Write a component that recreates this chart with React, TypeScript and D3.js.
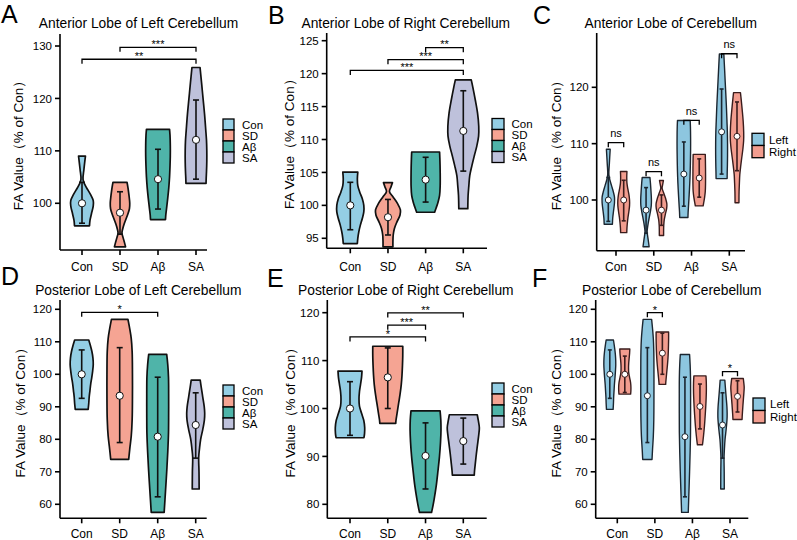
import React from 'react';
import * as d3 from 'd3';

type Prof = [number, number][];

const groups = ['Con', 'SD', 'Aβ', 'SA'];
const groupColors = ['#94CEE4', '#F5A493', '#4FB4A9', '#BEC1DB'];
const sides = ['Left', 'Right'];
const sideColors = ['#8DC6DF', '#F29D8F'];
const sideStrokes = ['#1b2630', '#3a1c1c'];

// ---------- Anterior lobe, left (panel A) ----------
const antLeftMean = [100, 98.2, 104.6, 112.1];
const antLeftLow = [96.2, 94.1, 98.9, 104.6];
const antLeftHigh = [104.0, 102.2, 110.3, 119.7];
const antLeftDensity: Prof[] = [
  [[109, .23], [106.5, .13], [104.5, .07], [103.5, .2], [102.5, .4], [101.5, .6], [100.5, .75], [99.5, .75], [98, .63], [96.7, .53], [95.7, .5]],
  [[104, .47], [103, .53], [101.5, .6], [100, .65], [99, .63], [98, .53], [97, .4], [96, .27], [95, .17], [94.3, .13], [93.5, .2], [92.5, .3], [91.7, .37]],
  [[114.1, .77], [113, .8], [111, .82], [109, .82], [107, .8], [105, .77], [103, .72], [101, .65], [99, .57], [97.8, .52], [96.9, .5]],
  [[125.9, .27], [123, .37], [120, .47], [117, .57], [114, .65], [112, .7], [110, .72], [108, .72], [106, .7], [104.8, .68], [103.8, .67]],
];

// ---------- Anterior lobe, right (panel B) ----------
const antRightMean = [100, 98.2, 103.9, 111.3];
const antRightLow = [96.3, 95.5, 100.5, 105.2];
const antRightHigh = [103.5, 100.9, 107.3, 117.4];
const antRightDensity: Prof[] = [
  [[105.05, .5], [104, .47], [103, .5], [102, .63], [101, .8], [100, .9], [99, .9], [98, .8], [97, .67], [96, .57], [95, .5], [94.2, .47]],
  [[103.45, .3], [102.8, .2], [102.1, .1], [101.3, .33], [100.3, .63], [99.3, .83], [98.5, .8], [97.5, .6], [96.5, .43], [95.5, .35], [94.5, .33], [93.7, .33]],
  [[108.1, .93], [107, .95], [105, .97], [103, .97], [101.5, .93], [100.5, .83], [99.6, .7], [98.95, .6]],
  [[119.05, .53], [118, .63], [116, .8], [114, .95], [112, 1.03], [110.5, 1.02], [109, .9], [107.5, .73], [106, .57], [104.5, .43], [103, .37], [101.5, .32], [99.5, .3]],
];

// ---------- Posterior lobe, left (panel D) ----------
const postLeftMean = [100, 93.4, 80.8, 84.4];
const postLeftLow = [92.6, 79.0, 62.3, 74.2];
const postLeftHigh = [107.5, 108.2, 99.1, 94.3];
const postLeftDensity: Prof[] = [
  [[110.55, .47], [109, .57], [107, .68], [105, .75], [103, .77], [101, .73], [99, .67], [97, .6], [95, .55], [93, .5], [91, .47], [89.2, .43]],
  [[116.9, .55], [114, .67], [111, .77], [107, .83], [100, .85], [93, .85], [86, .83], [81, .77], [77, .67], [73.8, .6]],
  [[106.1, .6], [103, .67], [99, .72], [94, .73], [88, .73], [82, .72], [76, .67], [70, .6], [64, .52], [57.5, .43]],
  [[98.2, .3], [96, .37], [93, .47], [90, .57], [88, .6], [86, .58], [83, .47], [80, .33], [77, .25], [74.5, .2], [70, .22], [64.7, .23]],
];

// ---------- Posterior lobe, right (panel E) ----------
const postRightMean = [100, 106.5, 90.1, 93.2];
const postRightLow = [94.4, 100.0, 83.2, 88.4];
const postRightHigh = [105.6, 112.65, 97.0, 98.0];
const postRightDensity: Prof[] = [
  [[107.8, .8], [106.5, .77], [105, .7], [103.5, .63], [102, .6], [100.5, .63], [99, .77], [97.5, .92], [96, .98], [94.8, .97], [93.9, .93]],
  [[113, 1], [111, 1], [109, .98], [107, .95], [105, .9], [103, .82], [101, .72], [99, .62], [97.6, .55], [96.9, .53]],
  [[99.5, .97], [97.5, 1.02], [95.5, 1.03], [93, 1], [90, .93], [87, .83], [84, .72], [81, .57], [79, .45], [78.3, .4]],
  [[98.7, .93], [97.5, 1], [96, 1.07], [94.5, 1.03], [92.5, .95], [90.5, .87], [88.5, .8], [87, .75], [86.1, .73]],
];

// ---------- axis ticks ----------
const ticksA = [100, 110, 120, 130];
const ticksB = [95, 100, 105, 110, 115, 120, 125];
const ticksC = [100, 110, 120];
const ticksD = [60, 70, 80, 90, 100, 110, 120];
const ticksE = [80, 90, 100, 110, 120];
const ticksF = [60, 70, 80, 90, 100, 110, 120];

// ---------- significance ----------
type GB = { from: number; to: number; level: number; label: string };
type SB = { cat: number; level: number; label: string };
const sigA: GB[] = [{ from: 1, to: 3, level: 129.75, label: '***' }, { from: 0, to: 3, level: 127.47, label: '**' }];
const sigB: GB[] = [{ from: 2, to: 3, level: 123.94, label: '**' }, { from: 1, to: 3, level: 122.12, label: '***' }, { from: 0, to: 3, level: 120.49, label: '***' }];
const sigC: SB[] = [{ cat: 0, level: 110.17, label: 'ns' }, { cat: 1, level: 105.02, label: 'ns' }, { cat: 2, level: 114.14, label: 'ns' }, { cat: 3, level: 125.96, label: 'ns' }];
const sigD: GB[] = [{ from: 0, to: 2, level: 119.08, label: '*' }];
const sigE: GB[] = [{ from: 1, to: 3, level: 119.96, label: '**' }, { from: 1, to: 2, level: 117.39, label: '***' }, { from: 0, to: 2, level: 114.95, label: '*' }];
const sigF: SB[] = [{ cat: 1, level: 118.95, label: '*' }, { cat: 3, level: 100.8, label: '*' }];

const yLabel = 'FA Value（% of Con）';

type Series = { mean: number[]; low: number[]; high: number[]; density: Prof[] };
const sAL: Series = { mean: antLeftMean, low: antLeftLow, high: antLeftHigh, density: antLeftDensity };
const sAR: Series = { mean: antRightMean, low: antRightLow, high: antRightHigh, density: antRightDensity };
const sPL: Series = { mean: postLeftMean, low: postLeftLow, high: postLeftHigh, density: postLeftDensity };
const sPR: Series = { mean: postRightMean, low: postRightLow, high: postRightHigh, density: postRightDensity };

interface Layout {
  letter: string; letterX: number; letterY: number;
  title: string; titleX: number; titleY: number;
  domain: [number, number]; yBottom: number; yTop: number;
  axisX: number; axisEnd: number; catRange: [number, number];
  ticks: number[]; labelX: number; xLabelY: number;
  legendX: number; legendY: number; legendW: number; legendH: number; legendTextX: number;
}

interface GroupPanel extends Layout { kind: 'groups'; series: Series; full: number; sig: GB[] }
interface SidePanel extends Layout { kind: 'sides'; left: Series; right: Series; fullL: number; fullR: number; sig: SB[]; off: number }

const panels: (GroupPanel | SidePanel)[] = [
  {
    kind: 'groups', letter: 'A', letterX: 1, letterY: 23, title: 'Anterior Lobe of Left Cerebellum', titleX: 138.5, titleY: 27.5,
    domain: [91.09, 132.29], yBottom: 250, yTop: 34, axisX: 60, axisEnd: 207, catRange: [82, 196], ticks: ticksA, labelX: 18, xLabelY: 271,
    legendX: 223, legendY: 119, legendW: 11, legendH: 11, legendTextX: 242, series: sAL, full: 30, sig: sigA,
  },
  {
    kind: 'groups', letter: 'B', letterX: 268, letterY: 23.5, title: 'Anterior Lobe of Right Cerebellum', titleX: 405.8, titleY: 27.5,
    domain: [93.48, 126.17], yBottom: 248.3, yTop: 33, axisX: 326.7, axisEnd: 487, catRange: [350.3, 463.3], ticks: ticksB, labelX: 289, xLabelY: 271,
    legendX: 492, legendY: 118.5, legendW: 12, legendH: 11, legendTextX: 511.5, series: sAR, full: 30, sig: sigB,
  },
  {
    kind: 'sides', letter: 'C', letterX: 533, letterY: 23.5, title: 'Anterior Lobe of Cerebellum', titleX: 670.8, titleY: 27.5,
    domain: [91.0, 129.64], yBottom: 250.7, yTop: 33, axisX: 596.7, axisEnd: 745, catRange: [616, 729.3], ticks: ticksC, labelX: 556, xLabelY: 271,
    legendX: 752, legendY: 133.3, legendW: 12, legendH: 12.2, legendTextX: 769, left: sAL, right: sAR, fullL: 16.5, fullR: 13, sig: sigC, off: 7.7,
  },
  {
    kind: 'groups', letter: 'D', letterX: 1, letterY: 285, title: 'Posterior Lobe of Left Cerebellum', titleX: 138.3, titleY: 294.5,
    domain: [55.69, 122.86], yBottom: 518.3, yTop: 300, axisX: 60, axisEnd: 206.7, catRange: [81.7, 195.7], ticks: ticksD, labelX: 20, xLabelY: 538,
    legendX: 223, legendY: 385, legendW: 11, legendH: 11, legendTextX: 242, series: sPL, full: 30, sig: sigD,
  },
  {
    kind: 'groups', letter: 'E', letterX: 267, letterY: 287, title: 'Posterior Lobe of Right Cerebellum', titleX: 405.8, titleY: 294.5,
    domain: [77.08, 122.65], yBottom: 518.3, yTop: 300, axisX: 327.3, axisEnd: 486.7, catRange: [350, 463.3], ticks: ticksE, labelX: 290, xLabelY: 538,
    legendX: 492, legendY: 383, legendW: 12, legendH: 11, legendTextX: 511.5, series: sPR, full: 30, sig: sigE,
  },
  {
    kind: 'sides', letter: 'F', letterX: 532, letterY: 287, title: 'Posterior Lobe of Cerebellum', titleX: 671.7, titleY: 294.5,
    domain: [55.69, 122.86], yBottom: 518.3, yTop: 300, axisX: 595.7, axisEnd: 748.3, catRange: [617.3, 730], ticks: ticksF, labelX: 556, xLabelY: 538,
    legendX: 753, legendY: 398, legendW: 12, legendH: 12.5, legendTextX: 770, left: sPL, right: sPR, fullL: 15.5, fullR: 12.5, sig: sigF, off: 7.5,
  },
];

const FONT = "'Liberation Sans', Arial, Helvetica, sans-serif";

function Violin(props: {
  cx: number; y: d3.ScaleLinear<number, number>; w: d3.ScaleLinear<number, number>;
  density: Prof; mean: number; low: number; high: number; fill: string; stroke: string; r: number; cap: number; sw: number;
}) {
  const { cx, y, w, density, mean, low, high, fill, stroke, r, cap, sw } = props;
  const area = d3.area<[number, number]>()
    .y(d => y(d[0]))
    .x0(d => cx - w(d[1]) / 2)
    .x1(d => cx + w(d[1]) / 2)
    .curve(d3.curveCatmullRom.alpha(0.5));
  return (
    <g>
      <path d={area(density) || ''} fill={fill} stroke={stroke} strokeWidth={sw} strokeLinejoin="round" />
      <line x1={cx} x2={cx} y1={y(low)} y2={y(high)} stroke={stroke} strokeWidth={1.6} />
      <line x1={cx - cap / 2} x2={cx + cap / 2} y1={y(low)} y2={y(low)} stroke={stroke} strokeWidth={1.6} />
      <line x1={cx - cap / 2} x2={cx + cap / 2} y1={y(high)} y2={y(high)} stroke={stroke} strokeWidth={1.6} />
      <circle cx={cx} cy={y(mean)} r={r} fill="#fff" stroke={stroke} strokeWidth={1} />
    </g>
  );
}

function Bracket({ x1, x2, yy, label }: { x1: number; x2: number; yy: number; label: string }) {
  const star = label.includes('*');
  return (
    <g>
      <path d={`M${x1},${yy + 4.5}V${yy}H${x2}V${yy + 4.5}`} fill="none" stroke="#000" strokeWidth={1.3} />
      <text x={(x1 + x2) / 2} y={star ? yy + 0.8 : yy - 5.5} textAnchor="middle" fontSize={11} fill="#000">{label}</text>
    </g>
  );
}

function Panel({ p }: { p: GroupPanel | SidePanel }) {
  const y = d3.scaleLinear().domain(p.domain).range([p.yBottom, p.yTop]);
  const x = d3.scalePoint<string>().domain(groups).range(p.catRange);
  const legendItems = p.kind === 'groups' ? groups.map((g, i) => [g, groupColors[i]]) : sides.map((s, i) => [s, sideColors[i]]);
  const midY = (p.yBottom + p.yTop) / 2;

  let marks: React.ReactNode = null;
  let sig: React.ReactNode = null;
  if (p.kind === 'groups') {
    const w = d3.scaleLinear().domain([0, 1]).range([0, p.full]);
    marks = groups.map((g, i) => (
      <Violin key={g} cx={x(g)!} y={y} w={w} density={p.series.density[i]} mean={p.series.mean[i]} low={p.series.low[i]} high={p.series.high[i]}
        fill={groupColors[i]} stroke="#111" r={3.6} cap={6} sw={1.7} />
    ));
    sig = p.sig.map((b, i) => <Bracket key={i} x1={x(groups[b.from])!} x2={x(groups[b.to])!} yy={y(b.level)} label={b.label} />);
  } else {
    const sx = d3.scalePoint<string>().domain(sides).range([-p.off, p.off]);
    const wl = d3.scaleLinear().domain([0, 1]).range([0, p.fullL]);
    const wr = d3.scaleLinear().domain([0, 1]).range([0, p.fullR]);
    marks = groups.map((g, i) => (
      <g key={g}>
        {[p.left, p.right].map((s, k) => (
          <Violin key={k} cx={x(g)! + sx(sides[k])!} y={y} w={k === 0 ? wl : wr} density={s.density[i]} mean={s.mean[i]} low={s.low[i]} high={s.high[i]}
            fill={sideColors[k]} stroke={sideStrokes[k]} r={3} cap={4} sw={1.4} />
        ))}
      </g>
    ));
    sig = p.sig.map((b, i) => (
      <Bracket key={i} x1={x(groups[b.cat])! + sx('Left')!} x2={x(groups[b.cat])! + sx('Right')!} yy={y(b.level)} label={b.label} />
    ));
  }

  return (
    <g fontFamily={FONT}>
      <text x={p.letterX} y={p.letterY} fontSize={25} fill="#000">{p.letter}</text>
      <text x={p.titleX} y={p.titleY} fontSize={13.8} textAnchor="middle" fill="#000">{p.title}</text>
      <text transform={`translate(${p.labelX},${midY}) rotate(-90)`} fontSize={13.5} textAnchor="middle" dominantBaseline="central" fill="#000">{yLabel}</text>
      {marks}
      {sig}
      <line x1={p.axisX} x2={p.axisX} y1={p.yTop} y2={p.yBottom} stroke="#000" strokeWidth={1.6} />
      <line x1={p.axisX} x2={p.axisEnd} y1={p.yBottom} y2={p.yBottom} stroke="#000" strokeWidth={1.6} />
      {p.ticks.map(t => (
        <g key={t}>
          <line x1={p.axisX - 5} x2={p.axisX} y1={y(t)} y2={y(t)} stroke="#000" strokeWidth={1.6} />
          <text x={p.axisX - 8} y={y(t)} dy="0.36em" textAnchor="end" fontSize={11.5} fill="#000">{t}</text>
        </g>
      ))}
      {groups.map(g => (
        <g key={g}>
          <line x1={x(g)!} x2={x(g)!} y1={p.yBottom} y2={p.yBottom + 5} stroke="#000" strokeWidth={1.6} />
          <text x={x(g)!} y={p.xLabelY} textAnchor="middle" fontSize={12} fill="#000">{g}</text>
        </g>
      ))}
      {legendItems.map(([name, col], i) => (
        <g key={name}>
          <rect x={p.legendX} y={p.legendY + i * p.legendH} width={p.legendW} height={p.legendH} fill={col} stroke="#000" strokeWidth={1.3} />
          <text x={p.legendTextX} y={p.legendY + i * p.legendH + p.legendH / 2} dy="0.36em" fontSize={11.5} fill="#000">{name}</text>
        </g>
      ))}
    </g>
  );
}

export default function App() {
  return (
    <svg width={797} height={540} style={{ position: 'absolute', left: 0, top: 0, background: '#fff' }}>
      <rect x={0} y={0} width={797} height={540} fill="#fff" />
      {panels.map(p => <Panel key={p.letter} p={p} />)}
    </svg>
  );
}
